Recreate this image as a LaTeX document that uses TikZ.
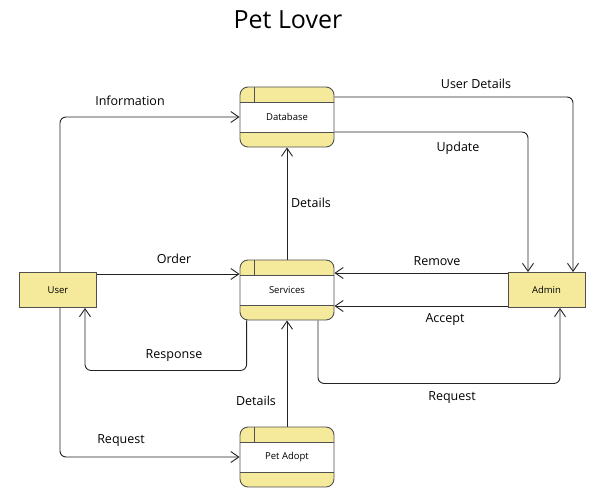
\documentclass[tikz,border=0pt]{standalone}
\usepackage{fontspec}
\setmainfont{Open Sans}
\usetikzlibrary{arrows.meta}
\definecolor{white}{rgb}{1.0, 1.0, 1.0}
\definecolor{petyellow}{RGB}{245,233,155}
\definecolor{boxgray}{RGB}{80,80,80}
\definecolor{linegray}{RGB}{35,35,35}
\pgfdeclarelayer{edgelayer}
\pgfdeclarelayer{nodelayer}
\pgfsetlayers{edgelayer,nodelayer,main}
\tikzstyle{entity}=[rectangle,fill=petyellow,draw=boxgray,line width=0.9pt,minimum width=77pt,minimum height=35pt,inner sep=0pt,font=\fontsize{9.5}{11}\selectfont]
\tikzstyle{store}=[rectangle,rounded corners=8pt,fill=petyellow,draw=boxgray,line width=0.9pt,minimum width=94pt,minimum height=60pt,inner sep=0pt,font=\fontsize{9.5}{11}\selectfont,
    path picture={
        \fill [white, sharp corners] ([yshift=-15.5pt]path picture bounding box.north west) rectangle ([yshift=15pt]path picture bounding box.south east);
        \draw [boxgray, line width=0.9pt, sharp corners] ([yshift=-15.5pt]path picture bounding box.north west) -- ([yshift=-15.5pt]path picture bounding box.north east);
        \draw [boxgray, line width=0.9pt, sharp corners] ([yshift=15pt]path picture bounding box.south west) -- ([yshift=15pt]path picture bounding box.south east);
        \draw [boxgray, line width=0.9pt, sharp corners] ([xshift=14pt]path picture bounding box.north west) -- ([xshift=14pt,yshift=-15.5pt]path picture bounding box.north west);
    }]
\tikzstyle{flow}=[draw=linegray,line width=0.9pt,rounded corners=6pt,->,>={Straight Barb[length=8pt,width=11pt]}]
\tikzstyle{lbl}=[inner sep=1pt,font=\fontsize{12.5}{14}\selectfont]

\begin{document}
\begin{tikzpicture}[x=1pt,y=-1pt]
        \useasboundingbox (0,0) rectangle (612,498);

        \begin{pgfonlayer}{nodelayer}
            \node [font=\fontsize{25}{30}\selectfont] (title) at (288,20) {Pet Lover};

            \node [style = store] (db) at (287,117) {Database};
            \node [style = store] (srv) at (287,290) {Services};
            \node [style = store] (adopt) at (287,457) {Pet Adopt};

            \node [style = entity] (user) at (58,290) {User};
            \node [style = entity] (admin) at (546.5,290) {Admin};
        \end{pgfonlayer}

        \node [style = lbl] (linfo) at (130,101) {Information};
        \node [style = lbl] (lorder) at (174,259) {Order};
        \node [style = lbl] (lresp) at (174,356) {Response};
        \node [style = lbl] (lreq1) at (121,441) {Request};
        \node [style = lbl] (ldet1) at (256,401) {Details};
        \node [style = lbl] (ldet2) at (311,203) {Details};
        \node [style = lbl] (luser) at (476,84) {User Details};
        \node [style = lbl] (lupd) at (458,148) {Update};
        \node [style = lbl] (lrem) at (437,261) {Remove};
        \node [style = lbl] (lacc) at (445,320) {Accept};
        \node [style = lbl] (lreq2) at (452,398) {Request};

        \begin{pgfonlayer}{edgelayer}
            \draw [flow] ([xshift=2pt]user.north) |- (db.west);
            \draw [flow] ([yshift=16pt]user.east) -- ([yshift=16pt]srv.west);
            \draw [flow] ([xshift=7pt]srv.south west) -- ++(0,50) -| ([xshift=27pt]user.south);
            \draw [flow] ([xshift=2pt]user.south) |- (adopt.west);

            \draw [flow] (adopt.north) -- (srv.south);
            \draw [flow] (srv.north) -- (db.south);

            \draw [flow] ([yshift=20pt]db.east) -| ([xshift=26.5pt]admin.north);
            \draw [flow] ([yshift=-15pt]db.east) -| ([xshift=-18.5pt]admin.north);

            \draw [flow] ([yshift=17pt]admin.west) -- ([yshift=17pt]srv.east);
            \draw [flow] ([yshift=-16pt]admin.west) -- ([yshift=-16pt]srv.east);
            \draw [flow] ([xshift=31pt]srv.south) -- ++(0,63) -| ([xshift=13.5pt]admin.south);
        \end{pgfonlayer}
\end{tikzpicture}
\end{document}
